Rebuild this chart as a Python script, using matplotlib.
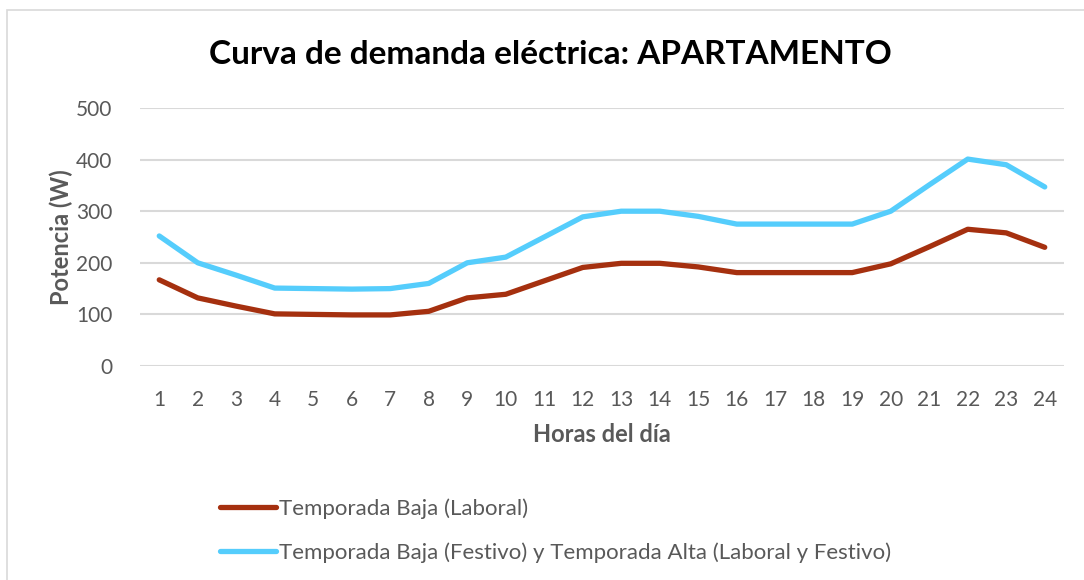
import matplotlib
matplotlib.use("Agg")
import matplotlib.pyplot as plt
from matplotlib.patches import Rectangle

plt.rcParams['font.family'] = ['Lato', 'DejaVu Sans']

# Data
hours = list(range(1, 25))
baja_laboral = [167, 132, 116, 101, 100, 99, 99, 106, 132, 139, 165, 191,
                199, 199, 192, 181, 181, 181, 181, 198, 231, 265, 258, 230]
festivo_alta = [252, 200, 176, 151, 150, 149, 150, 160, 200, 211, 250, 289,
                300, 300, 290, 275, 275, 275, 275, 300, 351, 401, 390, 347]
series_labels = ['Temporada Baja (Laboral)',
                 'Temporada Baja (Festivo) y Temporada Alta (Laboral y Festivo)']
y_ticks = [0, 100, 200, 300, 400, 500]

color_red = '#A5300F'
color_cyan = '#55CDFC'
text_gray = '#595959'

fig = plt.figure(figsize=(10.84, 5.8), dpi=100)
ax = fig.add_axes([140 / 1084, 1 - 366 / 580, 924 / 1084, 258 / 580])

# Chart border (light gray frame, cut off at right and bottom)
fig.patches.append(Rectangle((7 / 1084, -0.1), 1.2, 1.1 - 10 / 580,
                             transform=fig.transFigure, fill=False,
                             edgecolor='#d9d9d9', linewidth=1.2))

ax.plot(hours, baja_laboral, color=color_red, linewidth=3.8,
        solid_capstyle='round', solid_joinstyle='round', label=series_labels[0])
ax.plot(hours, festivo_alta, color=color_cyan, linewidth=3.8,
        solid_capstyle='round', solid_joinstyle='round', label=series_labels[1])

ax.set_xlim(0.5, 24.5)
ax.set_ylim(0, 500)
ax.set_xticks(hours)
ax.set_yticks(y_ticks)
ax.grid(axis='y', color='#d9d9d9', linewidth=1.5)
ax.set_axisbelow(True)
for s in ax.spines.values():
    s.set_visible(False)
ax.tick_params(axis='both', length=0, labelsize=15, labelcolor=text_gray)
ax.tick_params(axis='y', pad=20)
ax.tick_params(axis='x', pad=17)

ax.set_xlabel('Horas del día', fontsize=17, fontweight='bold', color=text_gray, labelpad=10)
ax.set_ylabel('Potencia (W)', fontsize=17, fontweight='bold', color=text_gray, labelpad=2)

fig.text(550 / 1084, 1 - 54 / 580, 'Curva de demanda eléctrica: APARTAMENTO',
         ha='center', va='center', fontsize=24, fontweight='bold', color='black')

fig.legend(loc='upper left', bbox_to_anchor=(200 / 1084, 1 - 478 / 580),
           frameon=False, fontsize=16, labelcolor=text_gray,
           handlelength=2.5, handletextpad=0.15, labelspacing=1.05)

fig.savefig('out.png', dpi=100)
